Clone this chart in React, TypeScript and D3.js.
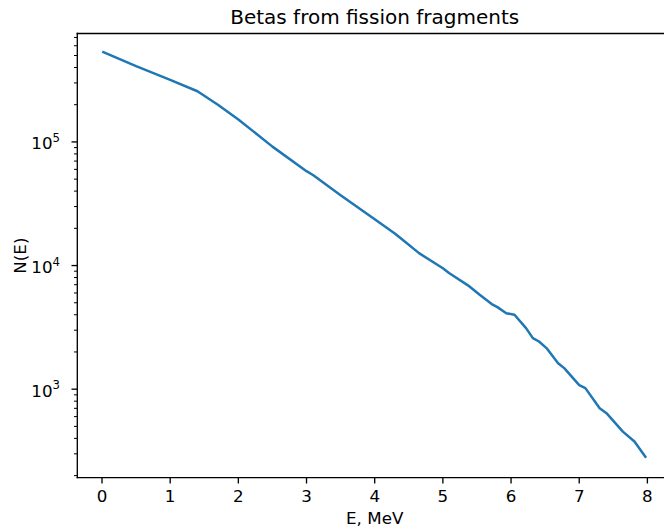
import React from 'react';
import * as d3 from 'd3';

const energies = [0.02, 0.5, 1.0, 1.4, 1.7, 2.0, 2.5, 3.0, 3.1, 3.5, 4.0, 4.3, 4.4, 4.65, 5.0, 5.09, 5.39, 5.54, 5.73, 5.8, 5.93, 6.05, 6.22, 6.32, 6.41, 6.52, 6.69, 6.78, 7.0, 7.09, 7.3, 7.4, 7.64, 7.81, 7.97];
const counts = [532000, 410000, 318000, 257000, 200000, 152000, 91600, 58000, 53800, 37100, 23700, 18100, 16300, 12600, 9510, 8700, 6780, 5810, 4820, 4610, 4120, 4000, 3120, 2590, 2430, 2150, 1620, 1480, 1080, 1020, 702, 640, 454, 377, 284];
const xTicks = [0, 1, 2, 3, 4, 5, 6, 7, 8];
const yMajorExp = [3, 4, 5];

export default function App() {
  const W = 664, H = 532;
  const left = 77.3, top = 33.5, bottom = 477.7;
  const x = d3.scaleLinear().domain([-0.3623, 8.3623]).range([left, 672.1]);
  const y = d3.scaleLog().domain([Math.pow(10, 2.284), Math.pow(10, 5.877)]).range([bottom, top]);
  const [d0, d1] = y.domain();
  const minor: number[] = [];
  for (let e = 2; e <= 5; e++) for (let k = 2; k <= 9; k++) {
    const v = k * Math.pow(10, e);
    if (v >= d0 && v <= d1) minor.push(v);
  }
  const pts = energies.map((e, i) => [e, counts[i]] as [number, number]);
  const line = d3.line<[number, number]>().x(d => x(d[0])).y(d => y(d[1])).curve(d3.curveLinear);
  const font = 'DejaVu Sans';
  const right = 672.1;
  return (
    <svg width={W} height={H} style={{ position: 'absolute', left: 0, top: 0 }} fontFamily={font}>
      <rect width={W} height={H} fill="#fff" />
      <defs>
        <clipPath id="ax"><rect x={left} y={top} width={right - left} height={bottom - top} /></clipPath>
      </defs>
      <path d={line(pts) || ''} fill="none" stroke="#1f77b4" strokeWidth={2.5} strokeLinejoin="round" strokeLinecap="square" clipPath="url(#ax)" />
      <line x1={left} x2={left} y1={top} y2={bottom} stroke="#000" strokeWidth={1.33} strokeLinecap="square" />
      <line x1={left} x2={right} y1={bottom} y2={bottom} stroke="#000" strokeWidth={1.33} strokeLinecap="square" />
      <line x1={left} x2={right} y1={top} y2={top} stroke="#000" strokeWidth={1.33} strokeLinecap="square" />
      <line x1={right} x2={right} y1={top} y2={bottom} stroke="#000" strokeWidth={1.33} />
      {xTicks.map(t => (
        <g key={t}>
          <line x1={x(t)} x2={x(t)} y1={bottom} y2={bottom + 5.8} stroke="#000" strokeWidth={1.33} />
          <text x={x(t)} y={bottom + 23.8} fontSize={16.7} textAnchor="middle" fill="#000">{t}</text>
        </g>
      ))}
      {yMajorExp.map(e => {
        const yy = y(Math.pow(10, e));
        return (
          <g key={e}>
            <line x1={left - 5.8} x2={left} y1={yy} y2={yy} stroke="#000" strokeWidth={1.33} />
            <text x={60} y={yy + 7.5} fontSize={16.7} textAnchor="end" fill="#000">
              10<tspan fontSize={11.7} dy={-7.5}>{e}</tspan>
            </text>
          </g>
        );
      })}
      {minor.map(v => (
        <line key={v} x1={left - 3.3} x2={left} y1={y(v)} y2={y(v)} stroke="#000" strokeWidth={1} />
      ))}
      <text x={(left + right) / 2} y={524} fontSize={16.7} textAnchor="middle" fill="#000">E, MeV</text>
      <text transform={`translate(26, ${(top + bottom) / 2}) rotate(-90)`} fontSize={16.7} textAnchor="middle" fill="#000">N(E)</text>
      <text x={(left + right) / 2} y={23.5} fontSize={20} textAnchor="middle" fill="#000">Betas from fission fragments</text>
    </svg>
  );
}
